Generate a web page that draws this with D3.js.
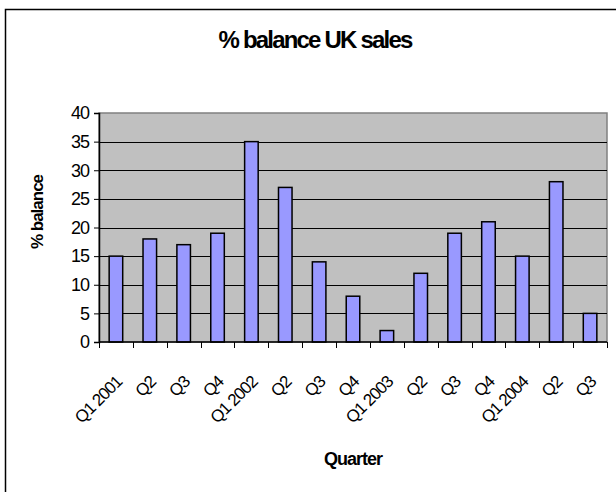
<!DOCTYPE html>
<html>
<head>
<meta charset="utf-8">
<script src="https://cdn.jsdelivr.net/npm/d3@7"></script>
<style>
  body { margin: 0; background: #fff; }
  svg { display: block; font-family: Arial, "Liberation Sans", sans-serif; }
</style>
</head>
<body>
<div id="chart-area"></div>
<script>
// data
const quarters = ['Q1 2001', 'Q2', 'Q3', 'Q4', 'Q1 2002', 'Q2 ', 'Q3 ', 'Q4 ',
    'Q1 2003', 'Q2  ', 'Q3  ', 'Q4  ', 'Q1 2004', 'Q2   ', 'Q3   '];
const balance = [15, 18, 17, 19, 35, 27, 14, 8, 2, 12, 19, 21, 15, 28, 5];
const yTicks = [0, 5, 10, 15, 20, 25, 30, 35, 40];

const data = quarters.map((q, i) => ({ label: q, value: balance[i] }));

const W = 616, H = 492;
const margin = { top: 113, right: 9, bottom: 150, left: 99 },
    width = W - margin.left - margin.right,
    height = H - margin.top - margin.bottom;

const root = d3.select('#chart-area')
    .append('svg')
    .attr('width', W)
    .attr('height', H);

// chart frame (runs off the right/bottom edge like the reference)
root.append('rect')
    .attr('x', 5.5).attr('y', 9.5)
    .attr('width', 640).attr('height', 500)
    .attr('fill', '#fff')
    .attr('stroke', '#000')
    .attr('stroke-width', 1.5);

root.append('text')
    .attr('x', 315)
    .attr('y', 48)
    .attr('text-anchor', 'middle')
    .attr('font-size', '24px')
    .attr('font-weight', 'bold')
    .attr('letter-spacing', '-1.8px')
    .text('% balance UK sales');

const svg = root.append('g')
    .attr('transform', `translate(${margin.left},${margin.top})`);

const x = d3.scaleBand()
    .domain(data.map(d => d.label))
    .range([0, width])
    .paddingInner(0)
    .paddingOuter(0);

const y = d3.scaleLinear()
    .domain([0, 40])
    .range([height, 0]);

// plot background
svg.append('rect')
    .attr('width', width)
    .attr('height', height)
    .attr('fill', '#c0c0c0')
    .attr('stroke', '#808080')
    .attr('stroke-width', 1.5);

// gridlines
svg.append('g')
    .selectAll('line')
    .data(yTicks.filter(t => t > 0 && t < 40))
    .enter()
    .append('line')
    .attr('x1', 0)
    .attr('x2', width)
    .attr('y1', d => Math.round(y(d)) + 0.5)
    .attr('y2', d => Math.round(y(d)) + 0.5)
    .attr('stroke', '#000')
    .attr('stroke-width', 1);

// bars
const barW = x.bandwidth() * 0.4;
svg.selectAll('.bar')
    .data(data)
    .enter()
    .append('rect')
    .attr('class', 'bar')
    .attr('x', d => x(d.label) + (x.bandwidth() - barW) / 2)
    .attr('y', d => y(d.value))
    .attr('width', barW)
    .attr('height', d => height - y(d.value))
    .attr('fill', '#9999ff')
    .attr('stroke', '#000')
    .attr('stroke-width', 1.5);

// y axis
const yAxis = svg.append('g')
    .call(d3.axisLeft(y).tickValues(yTicks).tickSize(5).tickPadding(5));
yAxis.select('.domain').attr('stroke', '#000').attr('stroke-width', 1.5);
yAxis.selectAll('.tick line').attr('stroke', '#000');
yAxis.selectAll('.tick text')
    .attr('font-size', '18px')
    .attr('letter-spacing', '-1px')
    .attr('fill', '#000')
    .attr('font-family', 'Arial, "Liberation Sans", sans-serif');

// x axis: ticks sit on category boundaries
const xAxis = svg.append('g')
    .attr('transform', `translate(0,${height})`);
xAxis.append('line')
    .attr('x1', 0).attr('x2', width)
    .attr('stroke', '#000').attr('stroke-width', 1.5);
xAxis.selectAll('.xtick')
    .data(data.map(d => x(d.label)).concat([width]))
    .enter()
    .append('line')
    .attr('class', 'xtick')
    .attr('x1', d => Math.round(d) + 0.5)
    .attr('x2', d => Math.round(d) + 0.5)
    .attr('y1', 0)
    .attr('y2', 6)
    .attr('stroke', '#000');
xAxis.selectAll('.xlabel')
    .data(data)
    .enter()
    .append('text')
    .attr('class', 'xlabel')
    .attr('text-anchor', 'end')
    .attr('font-size', '17px')
    .attr('letter-spacing', '-1px')
    .attr('transform', d => `translate(${x(d.label) + x.bandwidth() / 2 + 7},41) rotate(-45)`)
    .text(d => d.label.trim());

// axis titles
svg.append('text')
    .attr('text-anchor', 'middle')
    .attr('x', width / 2)
    .attr('y', 465 - margin.top)
    .attr('font-size', '18px')
    .attr('font-weight', 'bold')
    .attr('letter-spacing', '-1px')
    .text('Quarter');

svg.append('text')
    .attr('text-anchor', 'middle')
    .attr('transform', 'rotate(-90)')
    .attr('x', -(212 - margin.top))
    .attr('y', 43 - margin.left)
    .attr('font-size', '17px')
    .attr('font-weight', 'bold')
    .attr('letter-spacing', '-1px')
    .text('% balance');
</script>
</body>
</html>
